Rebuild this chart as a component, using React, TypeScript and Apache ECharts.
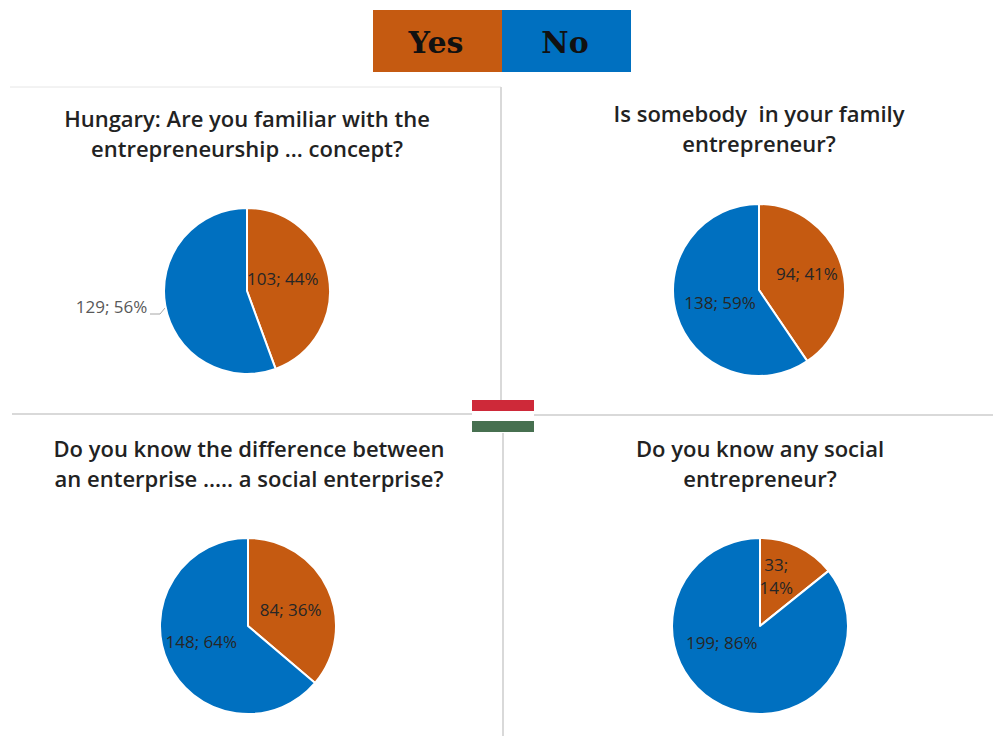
import React, { useEffect, useRef } from "react";
import * as echarts from "echarts";

const legendNames = ["Yes", "No"];
const yesColor = "#C55A11";
const noColor = "#0070C0";
const titles = [
  "Hungary: Are you familiar with the\nentrepreneurship ... concept?",
  "Is somebody  in your family\nentrepreneur?",
  "Do you know the difference between\nan enterprise ..... a social enterprise?",
  "Do you know any social\nentrepreneur?",
];
const yesValues = [103, 94, 84, 33];
const noValues = [129, 138, 148, 199];
const yesPercent = [44, 41, 36, 14];
const noPercent = [56, 59, 64, 86];

const centers = [[247, 291], [759, 290], [248, 626], [760, 626]];
const radii = [83, 86, 88, 88];
const titleCenters = [[242, 103], [754, 98], [244, 433], [755, 433]];
const yesOffsets = [[-8, -5], [4, -3], [0, 3], [-4, -8]];
const noOffsets = [[3, 0], [5, -1], [-4, -4], [-18, -26]];
const leaderPoints = [[165, 308], [160, 314], [150, 314]];

function App() {
  const ref = useRef<HTMLDivElement>(null);
  useEffect(() => {
    const chart = echarts.init(ref.current!, undefined, { renderer: "svg" });
    const font = '"Open Sans", "Noto Sans", sans-serif';
    chart.setOption({
      animation: false,
      backgroundColor: "#ffffff",
      title: titles.map((t, i) => ({
        text: t,
        left: titleCenters[i][0],
        top: titleCenters[i][1] - 5,
        textAlign: "center",
        textStyle: { fontFamily: font, fontSize: 22, fontWeight: 600, color: "#222222", lineHeight: 30 },
      })),
      series: titles.map((_, i) => {
        const outside = i === 0;
        return {
          type: "pie",
          center: centers[i],
          radius: [0, radii[i]],
          startAngle: 90,
          clockwise: true,
          percentPrecision: 0,
          silent: true,
          itemStyle: { borderColor: "#ffffff", borderWidth: 2 },
          labelLayout: (p: any) => {
            const o = p.dataIndex === 0 ? yesOffsets[i] : noOffsets[i];
            const layout: any = { dx: o[0], dy: o[1] };
            if (outside && p.dataIndex === 1) layout.labelLinePoints = leaderPoints;
            return layout;
          },
          data: [
            {
              name: legendNames[0],
              value: yesValues[i],
              itemStyle: { color: yesColor },
              label: {
                position: "inside",
                formatter: i === 3
                  ? `${yesValues[i]};\n${yesPercent[i]}%`
                  : `${yesValues[i]}; ${yesPercent[i]}%`,
                fontFamily: font, fontSize: 17, color: "#262626", lineHeight: 23,
              },
              labelLine: { show: false },
            },
            {
              name: legendNames[1],
              value: noValues[i],
              itemStyle: { color: noColor },
              label: {
                position: outside ? "outside" : "inside",
                formatter: `${noValues[i]}; ${noPercent[i]}%`,
                fontFamily: font, fontSize: 17,
                lineHeight: 23,
                color: outside ? "#595959" : "#262626",
              },
              labelLine: {
                show: outside, length: 6, length2: 10,
                lineStyle: { color: "#a6a6a6", width: 1 },
              },
            },
          ],
        };
      }),
      graphic: [
        { type: "rect", shape: { x: 373, y: 10, width: 129, height: 62 }, style: { fill: yesColor } },
        { type: "rect", shape: { x: 502, y: 10, width: 129, height: 62 }, style: { fill: noColor } },
        { type: "text", x: 436, y: 42, style: { text: legendNames[0], fontFamily: '"DejaVu Serif", serif', fontWeight: "bold", fontSize: 30, fill: "#111111", align: "center", verticalAlign: "middle" } },
        { type: "text", x: 565, y: 42, style: { text: legendNames[1], fontFamily: '"DejaVu Serif", serif', fontWeight: "bold", fontSize: 30, fill: "#111111", align: "center", verticalAlign: "middle" } },
        { type: "line", shape: { x1: 10, y1: 87, x2: 501, y2: 87 }, style: { stroke: "#e6e6e6", lineWidth: 1 } },
        { type: "line", shape: { x1: 501, y1: 87, x2: 501, y2: 400 }, style: { stroke: "#d9d9d9", lineWidth: 2 } },
        { type: "line", shape: { x1: 12, y1: 414, x2: 472, y2: 414 }, style: { stroke: "#d9d9d9", lineWidth: 2 } },
        { type: "line", shape: { x1: 534, y1: 415, x2: 993, y2: 415 }, style: { stroke: "#d9d9d9", lineWidth: 2 } },
        { type: "line", shape: { x1: 503, y1: 433, x2: 503, y2: 736 }, style: { stroke: "#d9d9d9", lineWidth: 2 } },
        { type: "rect", shape: { x: 472, y: 400, width: 62, height: 11 }, style: { fill: "#CE2939" } },
        { type: "rect", shape: { x: 472, y: 421, width: 62, height: 11 }, style: { fill: "#477050" } },
      ],
    });
    return () => chart.dispose();
  }, []);
  return <div ref={ref} style={{ position: "absolute", left: 0, top: 0, width: 993, height: 736 }} />;
}

export default App;
